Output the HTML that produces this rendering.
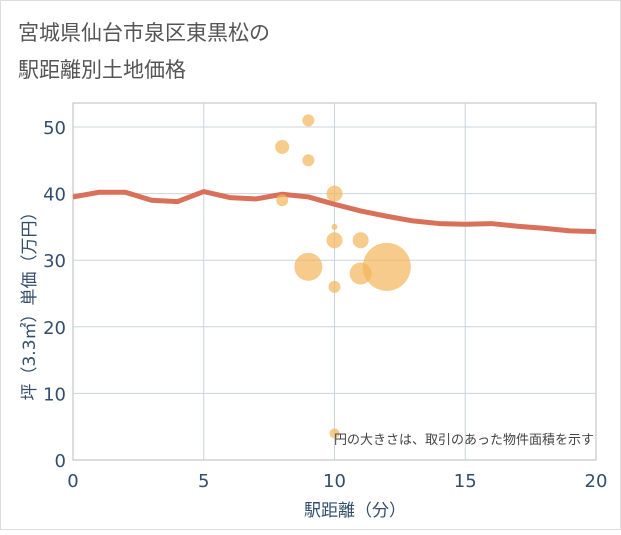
<!DOCTYPE html>
<html><head><meta charset="utf-8"><style>
body{margin:0;background:#fff;}
svg text{font-family:"DejaVu Sans","Noto Sans CJK JP",sans-serif;}
</style></head><body>
<svg id="chart" width="621" height="530" viewBox="0 0 621 530" xmlns="http://www.w3.org/2000/svg">
<rect x="0.5" y="0.5" width="620" height="529" fill="#fff" stroke="#ddd"/>
<text x="18" y="40" font-size="21" fill="#555">宮城県仙台市泉区東黒松の</text>
<text x="18" y="77" font-size="21" fill="#555">駅距離別土地価格</text>
<rect x="73" y="103" width="523" height="357" fill="#fff" stroke="#bbb"/>
<g id="grid"></g>
<g id="ticks"></g>
<g id="line"></g>
<g id="bubbles"></g>
<text transform="translate(35,302) rotate(-90)" text-anchor="middle" font-size="17" fill="#334e6c">坪（3.3㎡）単価（万円）</text>
<text x="355" y="516" text-anchor="middle" font-size="17" fill="#334e6c">駅距離（分）</text>
<text x="594" y="444" text-anchor="end" font-size="13" fill="#444">円の大きさは、取引のあった物件面積を示す</text>
</svg>
<script>
const xTicks=[0,5,10,15,20];
const yTicks=[0,10,20,30,40,50];
const lineX=[0,1,2,3,4,5,6,7,8,9,10,11,12,13,14,15,16,17,18,19,20];
const lineY=[39.5,40.2,40.2,39,38.8,40.3,39.4,39.2,39.9,39.5,38.4,37.4,36.6,35.9,35.5,35.4,35.5,35.1,34.8,34.4,34.3];
const bubX=[8,9,9,8,10,10,10,11,9,11,12,10,10];
const bubY=[47,51,45,39,40,35,33,33,29,28,29,26,4];
const bubR=[7,6,6,6,8,3,8,8,14,11,24,6,5];
const NS="http://www.w3.org/2000/svg";
const sx=v=>73+v*523/20, sy=v=>460-v*333/50;
function mk(t,a,p){const e=document.createElementNS(NS,t);for(const k in a)e.setAttribute(k,a[k]);p.appendChild(e);return e;}
const grid=document.getElementById('grid'),ticks=document.getElementById('ticks');
xTicks.forEach(v=>{
 if(v>0&&v<20){const l=mk('line',{x1:sx(v),x2:sx(v),y1:103,y2:460,stroke:'#c8d4e0'},grid);
 
 }
 const t=mk('text',{x:sx(v),y:487,'text-anchor':'middle','font-size':18,fill:'#334e6c'},ticks);t.textContent=v;
 
 
});
yTicks.forEach(v=>{
 if(v>0){const l=mk('line',{x1:73,x2:596,y1:sy(v),y2:sy(v),stroke:'#c8d4e0'},grid);
 
 }
 const t=mk('text',{x:66,y:sy(v)+7,'text-anchor':'end','font-size':18,fill:'#334e6c'},ticks);t.textContent=v;
 
 
});
const pts=lineX.map((x,i)=>sx(x)+','+sy(lineY[i])).join(' ');
const pl=mk('polyline',{points:pts,fill:'none',stroke:'#d9705a','stroke-width':5,'stroke-linejoin':'round'},document.getElementById('line'));


const bg=document.getElementById('bubbles');
bubX.forEach((x,i)=>{
 const c=mk('circle',{cx:sx(x),cy:sy(bubY[i]),r:bubR[i],fill:'#f2b55a','fill-opacity':0.7},bg);
 
 
});
</script>
</body></html>
